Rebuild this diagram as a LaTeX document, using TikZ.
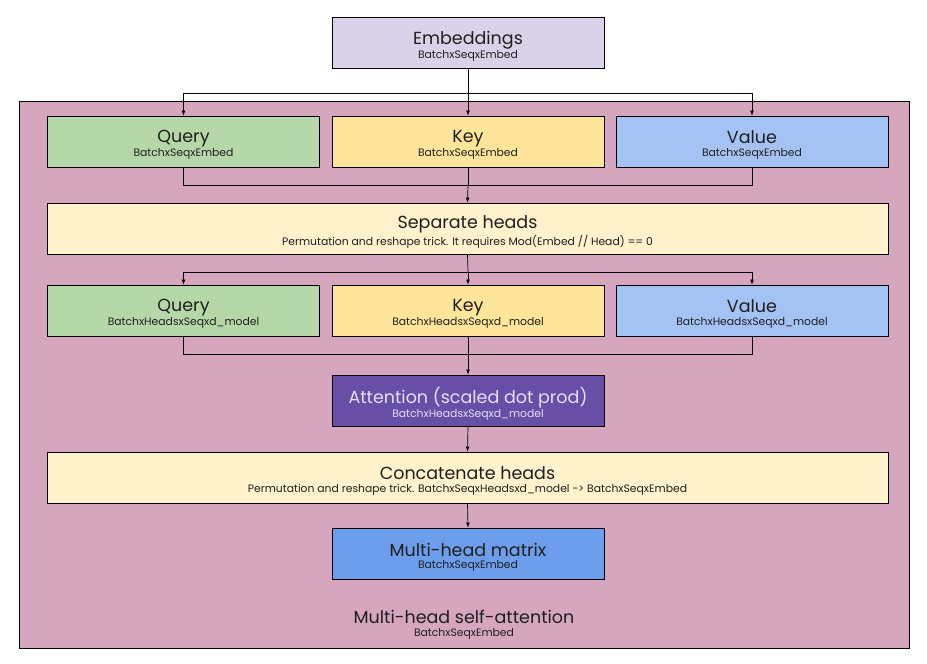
\documentclass[tikz,border=0pt]{standalone}
\usepackage{fontspec}
\setmainfont{Poppins}
\usetikzlibrary{arrows.meta}
\definecolor{embc}{HTML}{D9D2E9}
\definecolor{outc}{HTML}{D5A6BD}
\definecolor{qc}{HTML}{B6D7A8}
\definecolor{kc}{HTML}{FFE599}
\definecolor{vc}{HTML}{A4C2F4}
\definecolor{sepc}{HTML}{FFF2CC}
\definecolor{attc}{HTML}{674EA7}
\definecolor{matc}{HTML}{6D9EEB}
\definecolor{txtc}{HTML}{1F1F1F}
\definecolor{atttxt}{HTML}{E6E0F5}
\tikzset{
  box/.style={draw=black, line width=0.9pt, rectangle, inner sep=0pt, text=txtc, align=center},
  small/.style={minimum width=272pt, minimum height=51pt},
  wide/.style={minimum width=841pt, minimum height=51pt},
  conn/.style={draw=black, line width=0.7pt},
  arr/.style={conn, -{Latex[length=5pt,width=4pt]}},
}
\newcommand{\ttl}[2]{\raisebox{-3.5pt}[\height][\depth]{\fontsize{17.5}{19}\selectfont #1}\\[0.5pt]\raisebox{-3.5pt}[\height][\depth]{\fontsize{10.8}{12}\selectfont #2}}
\begin{document}
\begin{tikzpicture}[x=1pt,y=-1pt]
\useasboundingbox (0,0) rectangle (927,664);
\fill[white] (0,0) rectangle (927,664);
% outer container
\node[box, fill=outc, minimum width=890pt, minimum height=547pt, anchor=north west] (outer) at (19,101) {};
\node[text=txtc, align=center, inner sep=0pt] (outerlbl) at (464,621) {\ttl{Multi-head self-attention}{BatchxSeqxEmbed}};
% nodes
\node[box, small, fill=embc] (emb) at (468,42.5) {\ttl{Embeddings}{BatchxSeqxEmbed}};
\node[box, small, fill=qc] (q1) at (183.5,141.5) {\ttl{Query}{BatchxSeqxEmbed}};
\node[box, small, fill=kc] (k1) at (468,141.5) {\ttl{Key}{BatchxSeqxEmbed}};
\node[box, small, fill=vc] (v1) at (752,141.5) {\ttl{Value}{BatchxSeqxEmbed}};
\node[box, wide, fill=sepc] (sep) at (467.5,228.5) {\ttl{Separate heads}{Permutation and reshape trick. It requires Mod(Embed // Head) == 0}};
\node[box, small, fill=qc] (q2) at (183.5,310.5) {\ttl{Query}{BatchxHeadsxSeqxd\_model}};
\node[box, small, fill=kc] (k2) at (468,310.5) {\ttl{Key}{BatchxHeadsxSeqxd\_model}};
\node[box, small, fill=vc] (v2) at (752,310.5) {\ttl{Value}{BatchxHeadsxSeqxd\_model}};
\node[box, small, fill=attc, text=atttxt] (att) at (468,400.5) {\ttl{Attention (scaled dot prod)}{BatchxHeadsxSeqxd\_model}};
\node[box, wide, fill=sepc] (cat) at (467.5,477.5) {\ttl{Concatenate heads}{Permutation and reshape trick. BatchxSeqxHeadsxd\_model -> BatchxSeqxEmbed}};
\node[box, small, fill=matc] (mat) at (468,553.5) {\ttl{Multi-head matrix}{BatchxSeqxEmbed}};
% coordinates for junctions
\coordinate (j1) at (468,93);
\coordinate (j2) at (468,185);
\coordinate (j3) at (468,272);
\coordinate (j4) at (468,354);
% emb -> q1 k1 v1
\draw[conn] (emb.south) -- (j1);
\draw[arr] (j1) -| (q1.north);
\draw[arr] (j1) -| (v1.north);
\draw[arr] (j1) -- (k1.north);
% q1 k1 v1 -> sep
\draw[conn] (q1.south) |- (j2);
\draw[conn] (v1.south) |- (j2);
\draw[conn] (k1.south) -- (j2);
\draw[arr] (j2) -- (sep.north);
% sep -> q2 k2 v2
\draw[conn] (sep.south) -- (j3);
\draw[arr] (j3) -| (q2.north);
\draw[arr] (j3) -| (v2.north);
\draw[arr] (j3) -- (k2.north);
% q2 k2 v2 -> att
\draw[conn] (q2.south) |- (j4);
\draw[conn] (v2.south) |- (j4);
\draw[conn] (k2.south) -- (j4);
\draw[arr] (j4) -- (att.north);
% att -> cat -> mat
\draw[arr] (att.south) -- (cat.north);
\draw[arr] (cat.south) -- (mat.north);
\end{tikzpicture}
\end{document}
